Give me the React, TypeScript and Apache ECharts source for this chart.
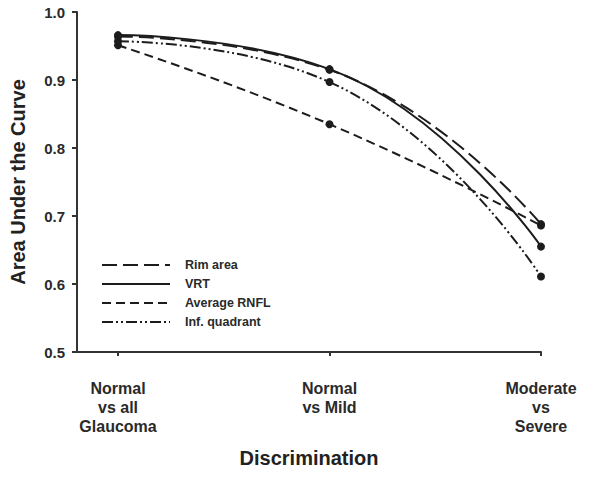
import React, { useEffect, useRef } from "react";
import * as echarts from "echarts";

const categories = ["Normal\nvs all\nGlaucoma", "Normal\nvs Mild", "Moderate\nvs\nSevere"];
const rimArea = [0.964, 0.915, 0.688];
const vrt = [0.966, 0.916, 0.655];
const averageRnfl = [0.951, 0.835, 0.686];
const infQuadrant = [0.957, 0.897, 0.611];
const yTicks = [0.5, 0.6, 0.7, 0.8, 0.9, 1.0];

const seriesDefs = [
  { name: "Rim area", values: rimArea, dash: [15, 6] as number[] | "solid" },
  { name: "VRT", values: vrt, dash: "solid" as number[] | "solid" },
  { name: "Average RNFL", values: averageRnfl, dash: [9, 5] as number[] | "solid" },
  { name: "Inf. quadrant", values: infQuadrant, dash: [11, 3, 2, 3, 2, 3] as number[] | "solid" },
];

const INK = "#1c1c1c";
const FONT = "'Liberation Sans', Arial, sans-serif";

export default function App() {
  const ref = useRef<HTMLDivElement>(null);
  useEffect(() => {
    if (!ref.current) return;
    const chart = echarts.init(ref.current, null, { renderer: "svg" });
    const legendTop = 265;
    const legendStep = 19;
    const legendGraphics: any[] = [];
    seriesDefs.forEach((s, i) => {
      const y = legendTop + i * legendStep;
      legendGraphics.push({
        type: "line",
        shape: { x1: 102, y1: y, x2: 170, y2: y },
        style: {
          stroke: INK,
          lineWidth: 2,
          lineDash: s.dash === "solid" ? null : s.dash,
        },
      });
      legendGraphics.push({
        type: "text",
        x: 185,
        y: y,
        style: {
          text: s.name,
          fill: "#2a2a2a",
          font: `bold 12.5px ${FONT}`,
          textVerticalAlign: "middle",
          verticalAlign: "middle",
        },
      });
    });

    chart.setOption({
      animation: false,
      backgroundColor: "#ffffff",
      textStyle: { fontFamily: FONT },
      grid: { left: 77, right: 59, top: 12, bottom: 130, containLabel: false },
      xAxis: {
        type: "value",
        min: -0.194,
        max: 2,
        name: "Discrimination",
        nameLocation: "middle",
        nameGap: 96,
        nameTextStyle: { fontSize: 20, fontWeight: "bold", color: "#222", fontFamily: FONT },
        axisLine: { show: true, onZero: false, lineStyle: { color: "#333", width: 2 } },
        axisTick: {
          show: true,
          customValues: [0, 1, 2],
          length: 4,
          lineStyle: { color: "#333", width: 2 },
        },
        axisLabel: {
          customValues: [0, 1, 2],
          formatter: (v: number) => categories[Math.round(v)] ?? "",
          fontSize: 16,
          lineHeight: 19,
          fontWeight: "bold",
          color: "#2a2a2a",
          margin: 27,
          fontFamily: FONT,
        },
        splitLine: { show: false },
      },
      yAxis: {
        type: "value",
        min: 0.5,
        max: 1.0,
        interval: 0.1,
        name: "Area Under the Curve",
        nameLocation: "middle",
        nameGap: 49,
        nameTextStyle: { fontSize: 20, fontWeight: "bold", color: "#222", fontFamily: FONT },
        axisLine: { show: true, onZero: false, lineStyle: { color: "#333", width: 2 } },
        axisTick: { show: true, length: 5, lineStyle: { color: "#333", width: 2 } },
        axisLabel: {
          formatter: (v: number) => {
            const t = yTicks.find((k) => Math.abs(k - v) < 1e-6);
            return (t ?? v).toFixed(1);
          },
          fontSize: 15,
          fontWeight: "bold",
          color: "#2a2a2a",
          margin: 12,
          fontFamily: FONT,
        },
        splitLine: { show: false },
      },
      series: seriesDefs.map((s) => ({
        name: s.name,
        type: "line",
        smooth: 0.5,
        data: s.values.map((v, i) => [i, v]),
        symbol: "circle",
        symbolSize: 8,
        itemStyle: { color: INK },
        lineStyle: { color: INK, width: 2, type: s.dash },
      })),
      graphic: legendGraphics,
    });
    return () => chart.dispose();
  }, []);
  return (
    <div
      ref={ref}
      style={{ position: "absolute", left: 0, top: 0, width: 600, height: 482 }}
    />
  );
}
